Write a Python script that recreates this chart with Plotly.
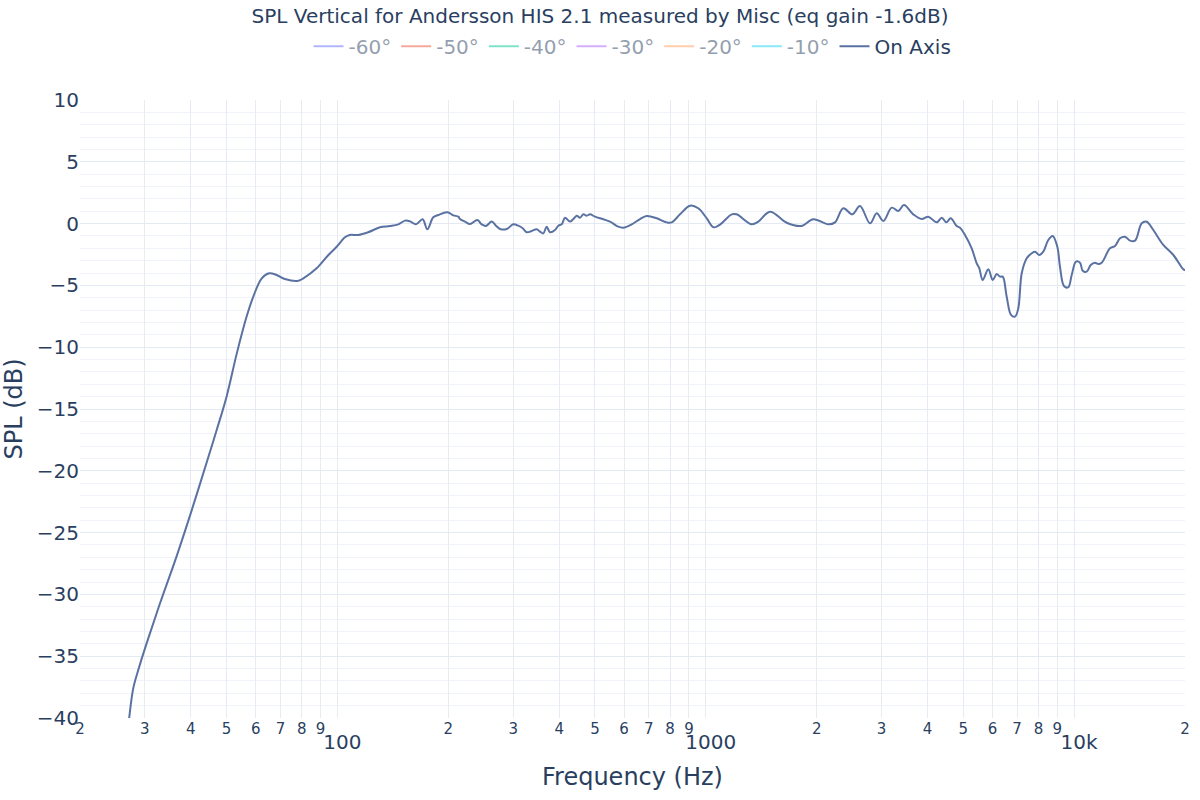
import plotly.graph_objects as go

title = "SPL Vertical for Andersson HIS 2.1 measured by Misc (eq gain -1.6dB)"
hidden_names = ["-60°", "-50°", "-40°", "-30°", "-20°", "-10°"]
hidden_colors = ["#636efa", "#EF553B", "#00cc96", "#ab63fa", "#FFA15A", "#19d3f3"]

freq = [26.8, 27.2, 27.9, 28.8, 30.3, 33.0, 36.6, 40.2, 44.6, 47.0, 50.0, 53.3, 56.7, 59.1,
        62.3, 65.3, 68.4, 72.0, 78.3, 80.8, 87.8, 94.5, 99.5, 104.8, 108, 113.9, 121.2,
        130.5, 138.9, 146.3, 152.6, 157.4, 163.4, 170.3, 175.4, 182, 187.8, 198.8, 206.3,
        212.9, 215.1, 222, 229, 239.8, 246.4, 253.1, 262.3, 269.4, 276.3, 288.1, 300.3,
        309.7, 318.4, 326.5, 336.8, 347.4, 354.7, 362.2, 369.8, 377.6, 389.6, 397.8, 406.3,
        414.7, 427.9, 436.9, 446.2, 455.6, 465.1, 475.1, 485, 500.3, 526.9, 549.5, 578.7,
        597, 629.4, 663, 691.3, 735.8, 783.2, 808, 851.1, 906, 954, 1006, 1050, 1093, 1176,
        1213, 1332, 1389, 1494, 1658, 1821, 1958, 2150, 2243, 2362, 2499, 2622, 2792, 2911,
        3034, 3197, 3332, 3452, 3658, 3855, 4018, 4236, 4371, 4498, 4623, 4800, 4899, 5055,
        5271, 5439, 5528, 5646, 5848, 6012, 6163, 6292, 6400, 6560, 6740, 6911, 7054, 7207,
        7436, 7672, 7831, 8045, 8248, 8509, 8745, 9003, 9154, 9386, 9642, 9849, 10118,
        10373, 10551, 10817, 11093, 11395, 11630, 11882, 12515, 12912, 13323, 13746, 14180,
        14635, 15259, 15740, 16406, 17463, 18590, 19790, 20000]

spl_on_axis = [-42.0, -40.0, -37.6, -36.1, -34.0, -30.7, -26.9, -23.2, -18.9, -16.7, -14.0,
               -10.5, -7.5, -5.9, -4.43, -4.02, -4.16, -4.48, -4.62, -4.43, -3.62, -2.54,
               -1.87, -1.11, -0.92, -0.92, -0.70, -0.30, -0.2, -0.06, 0.24, 0.18, -0.06, 0.35,
               -0.46, 0.51, 0.70, 0.91, 0.67, 0.56, 0.37, 0.16, -0.03, 0.29, -0.06, -0.19,
               0.16, -0.17, -0.44, -0.44, -0.06, -0.17, -0.38, -0.70, -0.6, -0.46, -0.65,
               -0.79, -0.25, -0.70, -0.52, -0.17, -0.06, 0.48, 0.16, 0.37, 0.64, 0.48, 0.75,
               0.64, 0.75, 0.56, 0.35, 0.16, -0.25, -0.33, -0.06, 0.37, 0.61, 0.43, 0.1, 0.1,
               0.75, 1.45, 1.24, 0.43, -0.3, -0.08, 0.75, 0.75, -0.06, 0.16, 0.96, 0.07,
               -0.19, 0.35, -0.06, 0.1, 1.24, 0.75, 1.42, 0.02, 0.83, 0.21, 1.29, 1.02, 1.5,
               0.75, 0.37, 0.56, 0.1, 0.48, 0.1, 0.43, -0.2, -0.33, -0.92, -2.0, -3.21,
               -3.62, -4.56, -3.70, -4.56, -4.08, -4.29, -4.29, -5.91, -7.39, -7.53, -6.85,
               -4.02, -2.81, -2.40, -2.27, -2.54, -2.27, -1.33, -1.0, -1.87, -3.49, -5.05,
               -5.15, -4.16, -3.08, -3.16, -3.81, -3.89, -3.35, -3.16, -3.27, -3.16, -2.0,
               -1.81, -1.19, -1.06, -1.38, -1.38, 0.02, 0.15, -0.52, -1.73, -2.54, -3.70,
               -3.78]

font_family = "Verdana, DejaVu Sans, sans-serif"
text_color = "#2a3f5f"

fig = go.Figure()
for name, color in zip(hidden_names, hidden_colors):
    fig.add_trace(go.Scatter(x=[None], y=[None], mode="lines", name=name,
                             line=dict(color=color, width=2), visible="legendonly"))
fig.add_trace(go.Scatter(x=freq, y=spl_on_axis, mode="lines", name="On Axis",
                         line=dict(color="#5a72a2", width=2), line_shape="spline"))

fig.update_layout(
    width=1200, height=800,
    margin=dict(l=80, r=15, t=100, b=82, autoexpand=False),
    paper_bgcolor="white", plot_bgcolor="white",
    font=dict(family=font_family, color=text_color),
    title=dict(text=title, x=0.5, xanchor="center", y=0.98, yanchor="middle",
               font=dict(size=20, color=text_color)),
    legend=dict(orientation="h", x=0.5, xanchor="center", y=1.087, yanchor="middle",
                font=dict(size=20), bgcolor="rgba(0,0,0,0)"),
    showlegend=True,
)
fig.update_xaxes(
    type="log", range=[1.30103, 4.30103], dtick="D1",
    title=dict(text="Frequency (Hz)", font=dict(size=24)),
    tickfont=dict(size=20), automargin=False,
    showgrid=True, gridcolor="#e6ecf4", zeroline=False,
    showline=False, ticks="",
)
fig.update_yaxes(
    range=[-40, 10], dtick=5,
    title=dict(text="SPL (dB)", font=dict(size=24)),
    tickfont=dict(size=20), automargin=False,
    showgrid=True, gridcolor="#e4eaf3", zeroline=False,
    minor=dict(dtick=1, showgrid=True, gridcolor="#f0f3f9"),
    showline=False, ticks="",
)

fig.write_html("out.html")
